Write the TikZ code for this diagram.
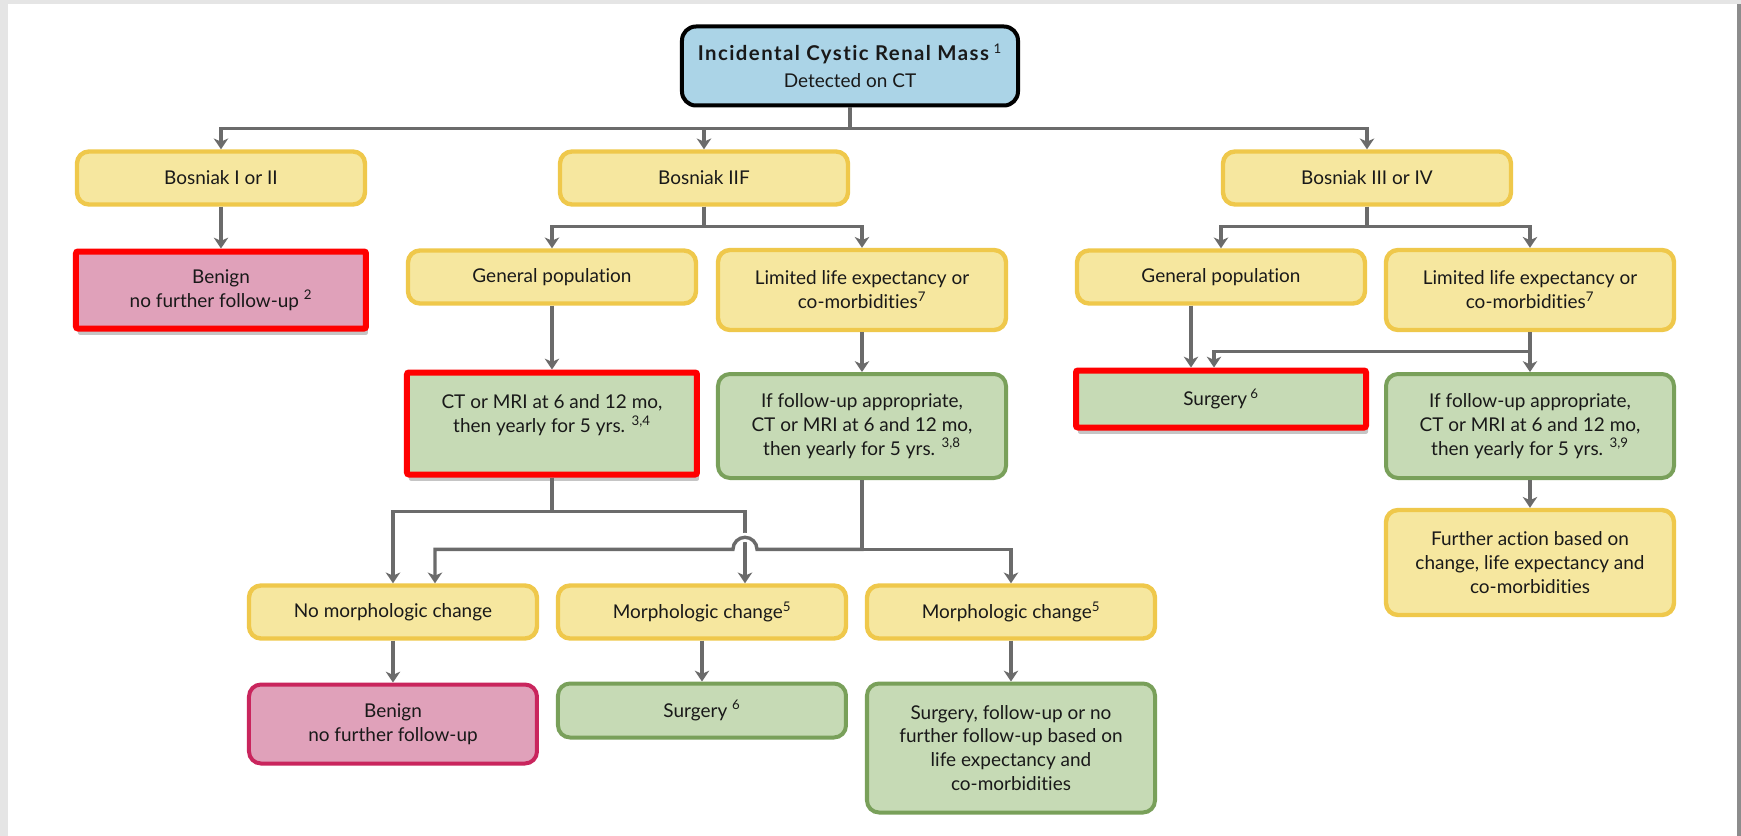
\documentclass[tikz,border=0pt]{standalone}
\usepackage{fontspec}
\setmainfont{Lato}[Ligatures=NoCommon]
\newfontfamily\headfont[LetterSpace=7, Ligatures=NoCommon]{Lato}
\usepackage{xcolor}
\usetikzlibrary{shapes.geometric, arrows.meta, shadows}
\definecolor{topblue}{HTML}{ABD4E7}
\definecolor{catfill}{HTML}{F6E79F}
\definecolor{catedge}{HTML}{EFC84B}
\definecolor{fupfill}{HTML}{C6DAB5}
\definecolor{fupedge}{HTML}{79A05A}
\definecolor{benfill}{HTML}{E0A1BA}
\definecolor{benedge}{HTML}{C9255D}
\definecolor{linegray}{HTML}{6B6B6B}
\tikzstyle{start} = [rectangle, rounded corners=0.35cm, minimum width=8.4cm, minimum height=1.975cm, text centered, align=center, draw=black, line width=0.1cm, fill=topblue]
\tikzstyle{category} = [rectangle, rounded corners=0.3cm, minimum width=7.2cm, minimum height=1.325cm, text centered, align=center, draw=catedge, line width=0.11cm, fill=catfill]
\tikzstyle{followup} = [rectangle, rounded corners=0.3cm, minimum width=7.2cm, minimum height=1.35cm, text centered, align=center, draw=fupedge, line width=0.1cm, fill=fupfill]
\tikzstyle{benign} = [rectangle, rounded corners=0.3cm, minimum width=7.2cm, minimum height=1.975cm, text centered, align=center, draw=benedge, line width=0.1cm, fill=benfill]
\tikzstyle{marked} = [rounded corners=0.05cm, draw=red, line width=0.15cm, minimum width=7.25cm, drop shadow={shadow xshift=0.05cm, shadow yshift=-0.16cm, opacity=0.45}]
\tikzstyle{arrow} = [line width=0.085cm, draw=linegray, -{Stealth[length=0.27cm, width=0.36cm, inset=0.08cm]}]

\begin{document}
\begin{tikzpicture}[node distance=2.8cm, font=\fontsize{13.5}{17}\selectfont, text=black!90]
    \fill [black!10] (-21.25,1.65) rectangle (22.275,-19.25);
    \fill [white] (-21.05,1.55) rectangle (22.175,-19.25);
    \fill [black!45] (22.175,1.55) rectangle (22.275,-19.25);
    \useasboundingbox (-21.25,1.65) rectangle (22.275,-19.25);

    \node (cyst) [start] {{\headfont\fontsize{14.5}{19}\selectfont\bfseries Incidental Cystic Renal Mass} \textsuperscript{1}\\[0.08cm]Detected on CT};
    \node (bos12) [category, below of=cyst, xshift=-15.725cm] {Bosniak I or II};
    \node (bos2f) [category, below of=cyst, xshift=-3.65cm] {Bosniak IIF};
    \node (bos34) [category, below of=cyst, xshift=12.925cm] {Bosniak III or IV};
    \node (benign1) [benign, marked, below of=bos12, minimum height=1.925cm] {Benign\\no further follow-up \textsuperscript{2}};
    \node (gen2f) [category, below of=bos2f, xshift=-3.8cm, yshift=0.325cm] {General population};
    \node (lim2f) [category, below of=bos2f, xshift=3.95cm, minimum height=2cm] {Limited life expectancy or\\co-morbidities\textsuperscript{7}};
    \node (gen34) [category, below of=bos34, xshift=-3.65cm, yshift=0.325cm] {General population};
    \node (lim34) [category, below of=bos34, xshift=4.075cm, minimum height=2cm] {Limited life expectancy or\\co-morbidities\textsuperscript{7}};
    \node (scan2f) [followup, marked, below of=gen2f, yshift=-0.8625cm, minimum height=2.55cm] {CT or MRI at 6 and 12 mo,\\then yearly for 5 yrs. \textsuperscript{3,4}\\[-0.1cm]\mbox{}};
    \node (cond2f) [followup, below of=lim2f, yshift=-0.6cm, minimum height=2.6cm] {If follow-up appropriate,\\CT or MRI at 6 and 12 mo,\\then yearly for 5 yrs. \textsuperscript{3,8}};
    \node (surg34) [followup, marked, below of=gen34, yshift=-0.25cm, minimum height=1.425cm] {Surgery\,\textsuperscript{6}};
    \node (cond34) [followup, below of=lim34, yshift=-0.6cm, minimum height=2.6cm] {If follow-up appropriate,\\CT or MRI at 6 and 12 mo,\\then yearly for 5 yrs. \textsuperscript{3,9}};
    \node (further) [category, below of=cond34, yshift=-0.6125cm, minimum height=2.625cm] {Further action based on\\change, life expectancy and\\co-morbidities};
    \node (nochg) [category, below of=scan2f, xshift=-3.975cm, yshift=-1.9125cm] {No morphologic change};
    \node (chg1) [category, right of=nochg, xshift=4.925cm] {Morphologic change\textsuperscript{5}};
    \node (chg2) [category, right of=chg1, xshift=4.925cm] {Morphologic change\textsuperscript{5}};
    \node (benign2) [benign, below of=nochg] {Benign\\no further follow-up};
    \node (surg2f) [followup, below of=chg1, yshift=0.3375cm] {Surgery \textsuperscript{6}};
    \node (mixed) [followup, below of=chg2, yshift=-0.6cm, minimum height=3.225cm] {Surgery, follow-up or no\\further follow-up based on\\life expectancy and\\co-morbidities};

    \draw [arrow] (cyst.south) -- ++(0,-0.525) -| (bos12);
    \draw [arrow] (cyst.south) -- ++(0,-0.525) -| (bos2f);
    \draw [arrow] (cyst.south) -- ++(0,-0.525) -| (bos34);
    \draw [arrow] (bos12) -- (benign1);
    \draw [arrow] (bos2f.south) -- ++(0,-0.5) -| (gen2f);
    \draw [arrow] (bos2f.south) -- ++(0,-0.5) -| (lim2f);
    \draw [arrow] (bos34.south) -- ++(0,-0.5) -| (gen34);
    \draw [arrow] (bos34.south) -- ++(0,-0.5) -| (lim34);
    \draw [arrow] (gen2f) -- (scan2f);
    \draw [arrow] (lim2f) -- (cond2f);
    \draw [arrow] ([xshift=-0.75cm]gen34.south) -- ([xshift=-0.75cm]surg34.north);
    \draw [arrow] (lim34.south) |- ([xshift=-0.175cm, yshift=0.4cm]surg34.north) -- ([xshift=-0.175cm]surg34.north);
    \draw [arrow] (lim34) -- (cond34);
    \draw [arrow] (cond34) -- (further);
    \draw [arrow] (scan2f.south) -- ++(0,-0.85) -| (nochg);
    \draw [arrow] (scan2f.south) -- ++(0,-0.85) -| ([xshift=1.075cm]chg1.north);
    \draw [white, line width=0.22cm] ([xshift=1.375cm, yshift=0.85cm]chg1.north) arc (0:180:0.3cm);
    \draw [arrow] (cond2f.south) |- ([xshift=1.375cm, yshift=0.85cm]chg1.north) arc (0:180:0.3cm) -| ([xshift=1.05cm]nochg.north);
    \draw [arrow] (cond2f.south) |- ([yshift=0.85cm]chg2.north) -- (chg2);
    \draw [arrow] (nochg) -- (benign2);
    \draw [arrow] (chg1) -- (surg2f);
    \draw [arrow] (chg2) -- (mixed);
\end{tikzpicture}
\end{document}
